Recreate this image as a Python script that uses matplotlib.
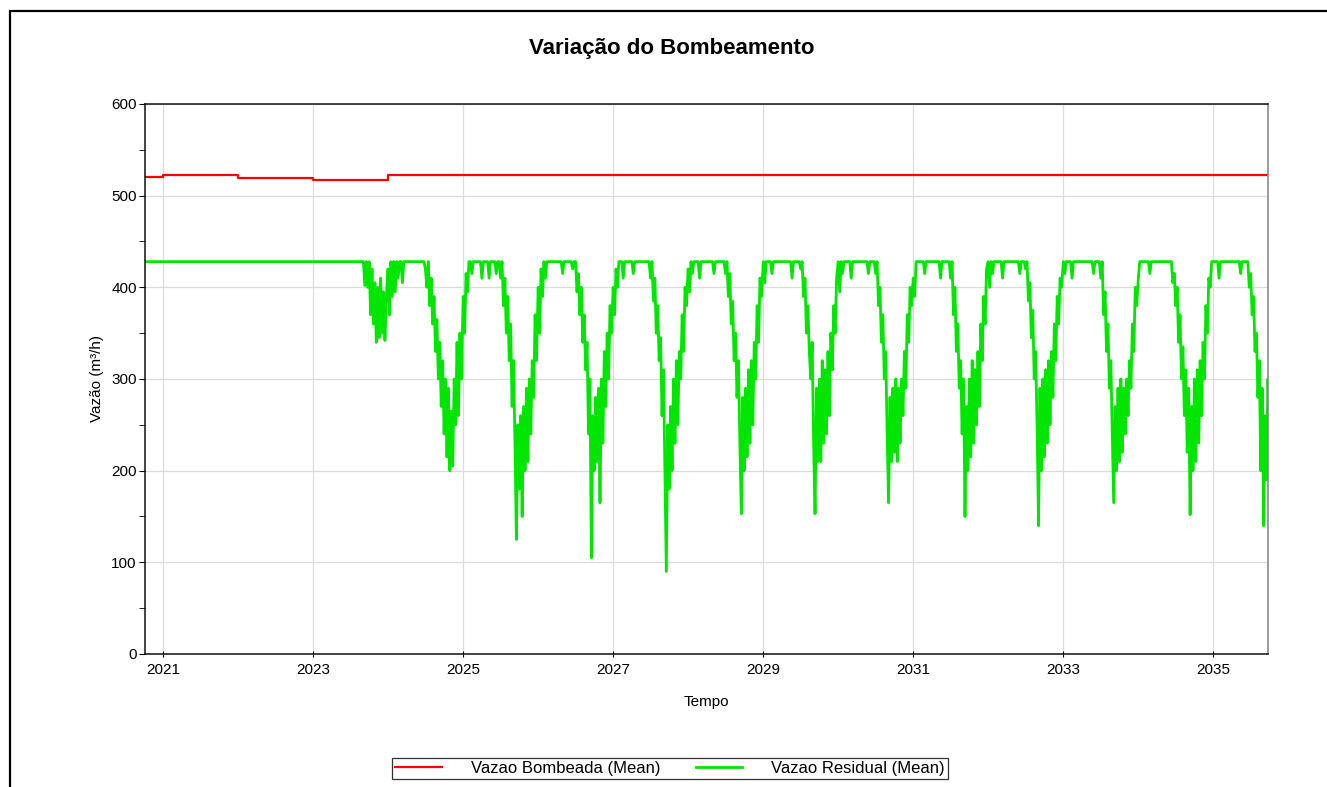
import matplotlib
matplotlib.use("Agg")
import matplotlib.pyplot as plt
import matplotlib.dates as mdates
from matplotlib.ticker import MultipleLocator
from matplotlib.patches import Rectangle
import numpy as np
import pandas as pd

plt.rcParams["font.family"] = ["Liberation Sans", "DejaVu Sans"]

# Vazao Bombeada (Mean), m3/h - changes once per year, then constant
bomb_dates = ["2020-10-01", "2021-01-01", "2022-01-01", "2023-01-01", "2024-01-01", "2035-12-31"]
bomb_vals = [520.8, 522.0, 519.6, 517.4, 523.0, 523.0]

# Vazao Residual (Mean), m3/h - flat until the first dry season
res_flat_dates = ["2020-10-01", "2023-09-03"]
res_flat_vals = [428, 428]

# weekly readings after that (week 0 = 1 Jan)
res_2023 = [402, 428, 400, 428, 370, 420, 360, 405, 340, 400, 345, 410, 350, 395, 342, 390]  # from week 36
res_2024 = [420, 370, 428, 390, 428, 395, 428, 410, 428, 428, 405, 428, 428,
            428, 428, 428, 428, 428, 428, 428, 428, 428, 428, 428, 428, 428,
            420, 400, 428, 380, 410, 360, 390, 330, 365, 300, 340, 270, 320,
            240, 300, 215, 290, 200, 265, 205, 300, 250, 340, 260, 350, 300]
res_2025 = [390, 350, 415, 395, 428, 428, 415, 428, 428, 428, 428, 428, 428,
            410, 428, 428, 428, 428, 410, 428, 428, 428, 428, 415, 428, 428,
            410, 428, 380, 410, 350, 390, 320, 360, 270, 320, 230, 125, 250,
            180, 260, 150, 270, 200, 290, 210, 300, 240, 320, 280, 370, 320]
res_2026 = [400, 350, 420, 390, 428, 410, 428, 428, 428, 428, 428, 428, 428,
            428, 428, 428, 428, 415, 428, 428, 428, 428, 428, 428, 420, 428,
            428, 395, 415, 370, 400, 340, 370, 310, 340, 240, 300, 105, 260,
            200, 280, 210, 290, 165, 300, 230, 330, 270, 350, 300, 380, 350]
res_2027 = [400, 370, 420, 400, 428, 428, 428, 410, 428, 428, 428, 428, 428,
            428, 415, 428, 428, 428, 428, 428, 428, 428, 428, 428, 428, 428,
            410, 428, 385, 410, 350, 380, 320, 345, 260, 310, 200, 90, 250,
            180, 270, 200, 300, 230, 320, 250, 330, 300, 370, 330, 400, 380]
res_2028 = [420, 395, 428, 415, 428, 428, 428, 428, 410, 428, 428, 428, 428,
            428, 428, 428, 428, 428, 415, 428, 428, 428, 428, 428, 428, 428,
            415, 428, 390, 415, 360, 385, 320, 350, 280, 320, 230, 153, 280,
            200, 290, 215, 310, 230, 320, 250, 340, 300, 380, 340, 410, 390]
res_2029 = [428, 405, 428, 428, 428, 428, 415, 428, 428, 428, 428, 428, 428,
            428, 428, 428, 428, 428, 428, 428, 410, 428, 428, 428, 428, 428,
            420, 428, 390, 410, 350, 380, 330, 300, 340, 230, 153, 290, 210,
            300, 210, 320, 230, 310, 240, 330, 260, 350, 310, 380, 350, 410]
res_2030 = [428, 395, 428, 415, 428, 428, 428, 428, 428, 410, 428, 428, 428,
            428, 428, 428, 428, 428, 428, 428, 428, 415, 428, 428, 428, 428,
            415, 428, 380, 400, 340, 370, 300, 330, 240, 165, 280, 210, 290,
            220, 300, 210, 290, 230, 300, 260, 330, 290, 370, 340, 400, 380]
res_2031 = [410, 390, 428, 428, 428, 428, 428, 428, 415, 428, 428, 428, 428,
            428, 428, 428, 428, 428, 428, 410, 428, 428, 428, 428, 428, 428,
            410, 428, 370, 400, 330, 360, 290, 320, 240, 300, 150, 270, 200,
            300, 215, 320, 230, 310, 250, 330, 270, 360, 320, 390, 360, 420]
res_2032 = [428, 400, 428, 415, 428, 428, 428, 428, 428, 428, 410, 428, 428,
            428, 428, 428, 428, 428, 428, 428, 428, 428, 415, 428, 428, 428,
            420, 428, 385, 405, 345, 375, 300, 330, 250, 140, 290, 200, 300,
            215, 310, 230, 320, 250, 330, 280, 360, 320, 390, 360, 410, 400]
res_2033 = [428, 415, 428, 428, 428, 428, 410, 428, 428, 428, 428, 428, 428,
            428, 428, 428, 428, 428, 428, 428, 428, 415, 428, 428, 428, 428,
            410, 428, 370, 395, 330, 360, 290, 320, 240, 165, 270, 200, 290,
            210, 300, 220, 290, 240, 300, 260, 320, 290, 360, 330, 400, 380]
res_2034 = [410, 428, 428, 428, 428, 428, 428, 428, 415, 428, 428, 428, 428,
            428, 428, 428, 428, 428, 428, 428, 428, 428, 428, 428, 405, 415,
            380, 400, 340, 370, 300, 335, 260, 310, 220, 290, 152, 270, 200,
            300, 210, 310, 230, 320, 260, 340, 300, 380, 350, 410, 400, 428]
res_2035 = [428, 428, 428, 428, 410, 428, 428, 428, 428, 428, 428, 428, 428,
            428, 428, 428, 428, 428, 428, 415, 428, 428, 428, 428, 428, 400,
            415, 370, 390, 330, 350, 280, 320, 200, 290, 140, 260, 190, 300,
            240]

residual_weekly = [(2023, 36, res_2023), (2024, 0, res_2024), (2025, 0, res_2025),
                   (2026, 0, res_2026), (2027, 0, res_2027), (2028, 0, res_2028),
                   (2029, 0, res_2029), (2030, 0, res_2030), (2031, 0, res_2031),
                   (2032, 0, res_2032), (2033, 0, res_2033), (2034, 0, res_2034),
                   (2035, 0, res_2035)]

res_dates = list(pd.to_datetime(res_flat_dates))
res_vals = list(res_flat_vals)
for yr, w0, vals in residual_weekly:
    weeks = w0 + np.arange(len(vals))
    res_dates += list(pd.Timestamp(f"{yr}-01-01") + pd.to_timedelta(weeks * 7, unit="D"))
    res_vals += vals

fig = plt.figure(figsize=(13.27, 7.87), dpi=100)
ax = fig.add_axes([0.1093, 0.169, 0.8462, 0.6989])

ax.plot(pd.to_datetime(bomb_dates), bomb_vals, color="#ff0000", lw=1.6,
        drawstyle="steps-post", label="Vazao Bombeada (Mean)")
ax.plot(res_dates, res_vals, color="#00e600", lw=2.0, label="Vazao Residual (Mean)")

ax.set_xlim(pd.Timestamp("2020-10-05"), pd.Timestamp("2035-09-24"))
ax.set_ylim(0, 600)
ax.set_xticks([pd.Timestamp(f"{y}-01-01") for y in range(2021, 2036, 2)])
ax.xaxis.set_major_formatter(mdates.DateFormatter("%Y"))
ax.yaxis.set_major_locator(MultipleLocator(100))
ax.yaxis.set_minor_locator(MultipleLocator(50))
ax.tick_params(axis="x", direction="inout", length=5, labelsize=11, pad=4)
ax.tick_params(axis="y", which="both", direction="out", length=4, labelsize=11, pad=2)
ax.grid(True, color="#dcdcdc", lw=0.9)
ax.set_axisbelow(True)

for s in ["left", "bottom", "top"]:
    ax.spines[s].set_color("#111111")
ax.spines["right"].set_color("#808080")
for s in ax.spines.values():
    s.set_linewidth(1.1)

ax.set_xlabel("Tempo", fontsize=11, labelpad=13)
ax.set_ylabel("Vazão (m³/h)", fontsize=11, labelpad=5)

fig.text(0.5064, 0.939, "Variação do Bombeamento", ha="center", va="center",
         fontsize=16, fontweight="bold")

h, l = ax.get_legend_handles_labels()
leg = fig.legend(h, l, loc="center", bbox_to_anchor=(0.505, 0.0235), ncol=2,
                 fontsize=12, frameon=True, fancybox=False, edgecolor="black",
                 handlelength=2.8, handletextpad=1.75, columnspacing=2.1,
                 borderpad=0.2, borderaxespad=0)
leg.get_frame().set_linewidth(0.9)

# outer frame (only left and top edges are inside the picture)
fig.add_artist(Rectangle((10 / 1327, -0.5), 2, 1.5 - 10.5 / 787, transform=fig.transFigure,
                         fill=False, edgecolor="black", lw=1.6))

fig.savefig("out.png", dpi=100)
